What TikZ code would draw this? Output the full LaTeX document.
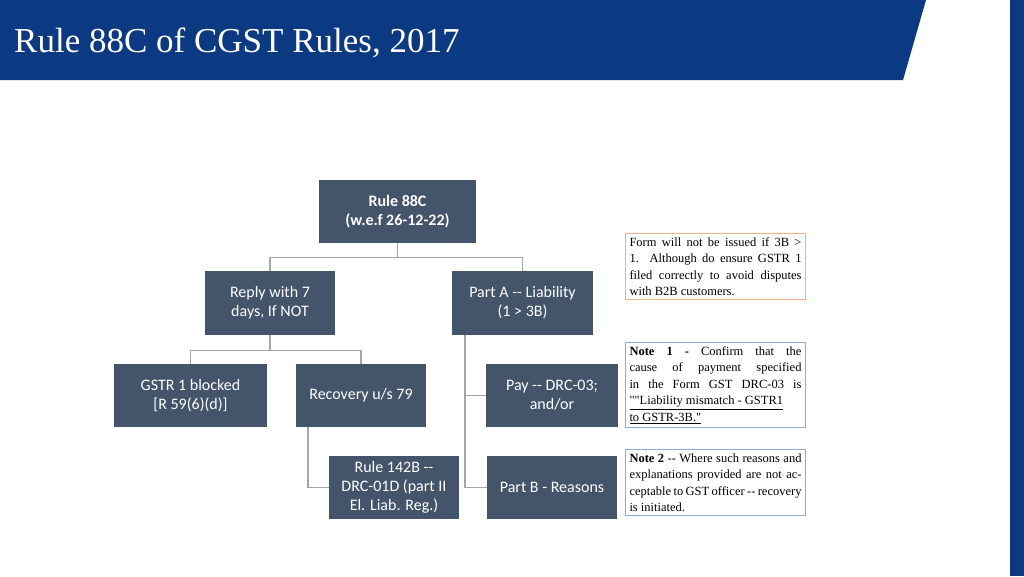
\documentclass[tikz,border=0pt]{standalone}
\usepackage{fontspec}
\setmainfont{Liberation Serif}
\newfontfamily\boxfont{Carlito}
\newfontfamily\notefont{Liberation Serif}
\usepackage{ragged2e}
\definecolor{navy}{HTML}{0B3A82}
\definecolor{slate}{HTML}{44546A}
\definecolor{conn}{HTML}{A6A6A6}
\definecolor{orng}{HTML}{F4B183}
\definecolor{blu}{HTML}{8FAADC}
\begin{document}
\begin{tikzpicture}[x=1pt,y=-1pt,
  dbox/.style={fill=slate,text=white,font=\boxfont\fontsize{16}{19}\selectfont,align=center,inner sep=0pt},
  nbox/.style={fill=white,draw=#1,line width=1pt,inner sep=4pt,text width=174pt,font=\notefont\fontsize{12.5}{16.5}\selectfont,align=justify,anchor=north west},
  cn/.style={draw=conn,line width=1.3pt}]
\useasboundingbox (0,0) rectangle (1024,576);
\fill[white] (0,0) rectangle (1024,576);
\fill[navy] (0,0) -- (926,0) -- (903,80) -- (0,80) -- cycle;
\fill[navy] (1010,0) rectangle (1024,576);
\node[anchor=base west,text=white,font=\fontsize{35}{40}\selectfont,inner sep=0pt] (title) at (14,52) {Rule 88C of CGST Rules, 2017};
\newcommand\bx[6]{\node[dbox,minimum width=#4-#2,minimum height=#5-#3] (#1) at ({(#2+#4)/2},{(#3+#5)/2}) {#6};}
\bx{r88}{319}{180}{476}{243}{\textbf{Rule 88C}\\\textbf{(w.e.f 26-12-22)}}
\bx{reply}{205}{271}{335}{335}{Reply with 7\\days, If NOT}
\bx{parta}{452}{271}{593}{335}{Part A -- Liability\\(1 > 3B)}
\bx{gstr}{114}{364}{267}{427}{GSTR 1 blocked\\{[R 59(6)(d)]}}
\bx{recov}{296}{364}{426}{427}{Recovery u/s 79}
\bx{pay}{486}{364}{618}{427}{Pay -- DRC-03;\\and/or}
\bx{r142}{329}{456}{459}{519}{Rule 142B --\\DRC-01D (part II\\El. Liab. Reg.)}
\bx{partb}{487}{456}{617}{519}{Part B - Reasons}
\draw[cn] (r88.south) -- ++(0,14) -| (reply.north);
\draw[cn] (r88.south) -- ++(0,14) -| (parta.north);
\draw[cn] (reply.south) -- ++(0,15) -| (gstr.north);
\draw[cn] (reply.south) -- ++(0,15) -| (recov.north);
\draw[cn] (parta.south-|465,0) |- (pay.west);
\draw[cn] (parta.south-|465,0) |- (partb.west);
\draw[cn] (recov.south-|308,0) |- (r142.west);
\node[nbox=orng,text width=172pt] (n0) at (625,233) {Form will not be issued if 3B > 1. Although do ensure GSTR 1 filed correctly to avoid disputes with B2B customers.};
\node[nbox=blu,text width=172pt] (n1) at (625,342) {\textbf{Note 1 -} Confirm that the cause of payment specified in the Form GST DRC-03 is \underline{""Liability mismatch - GSTR1} \underline{to GSTR-3B."}};
\node[nbox=blu,text width=172pt] (n2) at (625,449) {\textbf{Note 2} -- Where such reasons and explanations provided are not acceptable to GST officer -- recovery is initiated.};
\end{tikzpicture}
\end{document}
